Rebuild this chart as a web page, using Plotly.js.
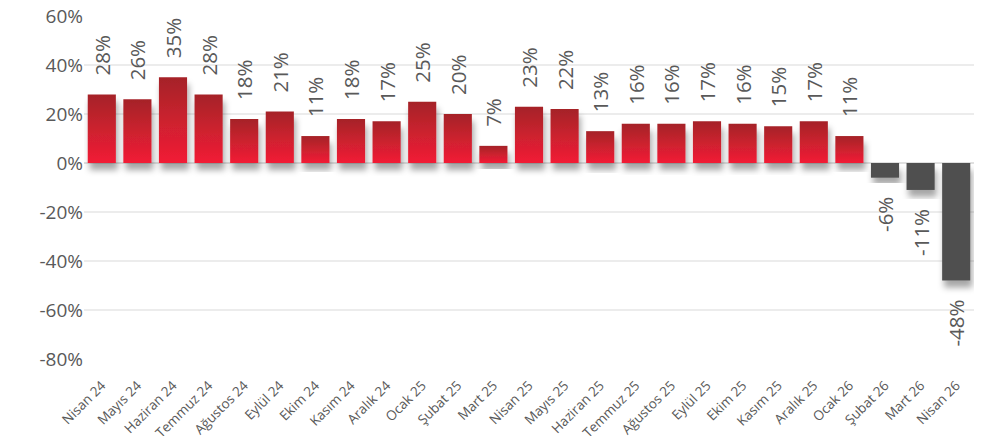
<!DOCTYPE html>
<html>
<head>
<meta charset="utf-8">
<script src="https://cdn.plot.ly/plotly-3.0.1.min.js"></script>
<style>
html,body{margin:0;padding:0;background:#fff;}
#chart{width:988px;height:436px;}
</style>
</head>
<body>
<div id="chart"></div>
<script>
const categories = ["Nisan 24","Mayıs 24","Haziran 24","Temmuz 24","Ağustos 24","Eylül 24","Ekim 24","Kasım 24","Aralık 24","Ocak 25","Şubat 25","Mart 25","Nisan 25","Mayıs 25","Haziran 25","Temmuz 25","Ağustos 25","Eylül 25","Ekim 25","Kasım 25","Aralık 25","Ocak 26","Şubat 26","Mart 26","Nisan 26"];
const values = [28,26,35,28,18,21,11,18,17,25,20,7,23,22,13,16,16,17,16,15,17,11,-6,-11,-48];
const yTicks = [-80,-60,-40,-20,0,20,40,60];

const NB = "\u00a0";
const labels = values.map(v => v >= 0 ? NB + NB + NB + v + "%" : v + "%" + NB + NB + NB);
const colors = values.map(v => v >= 0 ? "#d8202e" : "#505050");

const trace = {
  type: "bar",
  x: categories,
  y: values,
  text: labels,
  textposition: "outside",
  textangle: -90,
  constraintext: "none",
  cliponaxis: false,
  textfont: {family: "Open Sans, sans-serif", size: 20.5, color: "#595959"},
  marker: {color: colors, line: {width: 0}},
  hoverinfo: "none"
};

const layout = {
  width: 988, height: 436,
  margin: {l: 84, r: 14, t: 16, b: 77},
  paper_bgcolor: "#fff", plot_bgcolor: "#fff",
  bargap: 0.21,
  showlegend: false,
  font: {family: "Open Sans, sans-serif", color: "#595959"},
  xaxis: {
    type: "category",
    tickangle: -45,
    ticklabelstandoff: 15,
    tickfont: {size: 13.5, color: "#595959"},
    showgrid: false, showline: false, zeroline: false, ticks: ""
  },
  yaxis: {
    range: [-80, 60],
    tickvals: yTicks,
    ticktext: yTicks.map(v => v + "%"),
    tickfont: {size: 19, color: "#595959"},
    gridcolor: "#ececec", gridwidth: 1.5,
    zeroline: true, zerolinecolor: "#e0e0e0", zerolinewidth: 1.5,
    showline: false, ticks: "", ticklen: 0
  }
};

Plotly.newPlot("chart", [trace], layout, {staticPlot: true}).then(gd => {
  const svg = gd.querySelector(".main-svg");
  const ns = "http://www.w3.org/2000/svg";
  let defs = svg.querySelector("defs");
  if (!defs) { defs = document.createElementNS(ns, "defs"); svg.insertBefore(defs, svg.firstChild); }
  const grad = document.createElementNS(ns, "linearGradient");
  grad.setAttribute("id", "redGrad");
  grad.setAttribute("x1", "0"); grad.setAttribute("y1", "0");
  grad.setAttribute("x2", "0"); grad.setAttribute("y2", "1");
  [["0%", "#a52428"], ["100%", "#f21d35"]].forEach(([o, c]) => {
    const s = document.createElementNS(ns, "stop");
    s.setAttribute("offset", o); s.setAttribute("stop-color", c);
    grad.appendChild(s);
  });
  defs.appendChild(grad);
  const filt = document.createElementNS(ns, "filter");
  filt.setAttribute("id", "barShadow");
  filt.setAttribute("x", "-30%"); filt.setAttribute("y", "-30%");
  filt.setAttribute("width", "160%"); filt.setAttribute("height", "160%");
  const ds = document.createElementNS(ns, "feDropShadow");
  ds.setAttribute("dx", "2"); ds.setAttribute("dy", "7");
  ds.setAttribute("stdDeviation", "3");
  ds.setAttribute("flood-color", "#000"); ds.setAttribute("flood-opacity", "0.35");
  filt.appendChild(ds);
  defs.appendChild(filt);

  const paths = gd.querySelectorAll(".trace.bars .point path");
  paths.forEach((p, i) => {
    if (values[i] >= 0) p.style.fill = "url(#redGrad)";
    p.setAttribute("filter", "url(#barShadow)");
  });
});
</script>
</body>
</html>
